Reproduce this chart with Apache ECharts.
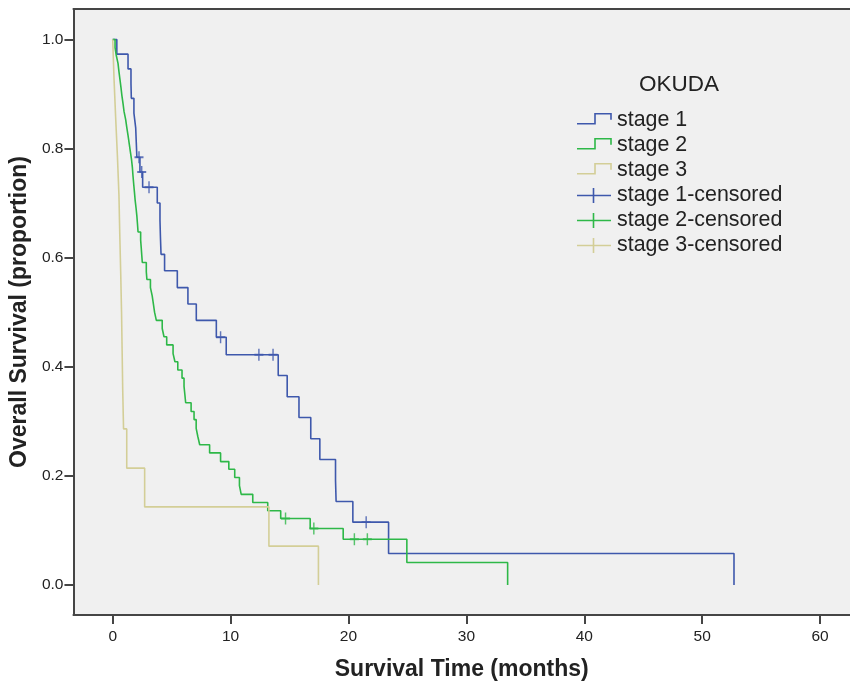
<!DOCTYPE html>
<html>
<head>
<meta charset="utf-8">
<script src="https://cdn.jsdelivr.net/npm/echarts@6/dist/echarts.min.js"></script>
<style>
html,body{margin:0;padding:0;background:#fff;}
#chart{width:850px;height:686px;}
</style>
</head>
<body>
<div id="chart"></div>
<script>
// ---------- data ----------
const legendTitle = 'OKUDA';
const seriesNames = ['stage 1', 'stage 2', 'stage 3'];
const censoredNames = ['stage 1-censored', 'stage 2-censored', 'stage 3-censored'];
const xTicks = [0, 10, 20, 30, 40, 50, 60];
const yTicks = [0, 0.2, 0.4, 0.6, 0.8, 1.0];

// [time (months), survival after event]
const stage1Steps = [[0,1],[0.35,0.973],[1.3,0.946],[1.55,0.919],[1.58,0.892],[1.8,0.865],[1.95,0.838],[2.0,0.811],[2.05,0.784],[2.31,0.757],[2.54,0.729],[3.78,0.7],[4.01,0.668],[4.05,0.637],[4.1,0.606],[4.4,0.576],[5.48,0.545],[6.38,0.515],[7.09,0.485],[8.79,0.454],[9.63,0.422],[14.04,0.384],[14.8,0.345],[15.8,0.307],[16.8,0.268],[17.57,0.23],[18.9,0.192],[18.95,0.153],[20.37,0.115],[23.4,0.0576],[52.7,0]];
const stage1Censored = [[2.23,0.784],[2.46,0.757],[3.08,0.729],[9.15,0.454],[12.4,0.422],[13.6,0.422],[21.5,0.115]];

const stage2Steps = [[0,1],[0.2,0.985],[0.3,0.971],[0.45,0.956],[0.53,0.941],[0.62,0.926],[0.7,0.912],[0.78,0.897],[0.88,0.882],[0.96,0.868],[1.1,0.853],[1.2,0.838],[1.3,0.824],[1.4,0.809],[1.5,0.794],[1.6,0.779],[1.67,0.765],[1.72,0.75],[1.78,0.735],[1.84,0.721],[1.9,0.706],[1.98,0.691],[2.05,0.676],[2.1,0.662],[2.15,0.647],[2.37,0.632],[2.42,0.618],[2.47,0.603],[2.51,0.591],[2.85,0.574],[2.9,0.56],[3.2,0.545],[3.35,0.53],[3.45,0.515],[3.55,0.5],[3.7,0.485],[4.2,0.47],[4.35,0.455],[4.58,0.44],[5.12,0.424],[5.28,0.409],[5.52,0.394],[5.88,0.379],[6.05,0.364],[6.12,0.349],[6.19,0.334],[6.65,0.318],[6.9,0.303],[7.08,0.287],[7.22,0.272],[7.38,0.257],[8.22,0.242],[9.15,0.226],[9.85,0.212],[10.35,0.197],[10.75,0.182],[10.9,0.166],[11.88,0.151],[13.15,0.136],[14.25,0.1216],[16.75,0.1033],[19.55,0.0837],[24.95,0.0411],[33.5,0]];
const stage2Censored = [[14.66,0.1216],[17.06,0.1033],[20.5,0.0837],[21.6,0.0837]];

const stage3Steps = [[0,1],[0.11,0.929],[0.25,0.857],[0.4,0.786],[0.53,0.714],[0.6,0.643],[0.68,0.571],[0.75,0.5],[0.8,0.429],[0.85,0.357],[0.92,0.286],[1.19,0.214],[2.71,0.143],[13.25,0.071],[17.45,0]];
const stage3Censored = [];

// ---------- style ----------
const colors = ['#3e58ac', '#2eb848', '#d3ce97'];
const frameColor = '#454545';
const FONT = 'Arial, "Liberation Sans", sans-serif';
const crossSymbol = 'path://M4.2,0h1.6v10h-1.6zM0,4.2h10v1.6h-10z';

const stepData = [stage1Steps, stage2Steps, stage3Steps];
const censData = [stage1Censored, stage2Censored, stage3Censored];

const series = [];
stepData.forEach((d, i) => {
  series.push({
    name: seriesNames[i], type: 'line', step: 'end', data: d,
    symbol: 'none', silent: true, z: 2 + i,
    lineStyle: { color: colors[i], width: 1.6 }
  });
});
censData.forEach((d, i) => {
  series.push({
    name: censoredNames[i], type: 'scatter', data: d,
    symbol: crossSymbol, symbolSize: [9, 12], silent: true, z: 6,
    itemStyle: { color: colors[i] }
  });
});

// legend drawn as graphic
const legendX = 577, rowY0 = 120.5, rowGap = 25;
const graphics = [{
  type: 'text', x: 679, y: 85,
  style: { text: legendTitle, fontSize: 22.5, fontFamily: FONT, fill: '#222', align: 'center', verticalAlign: 'middle' }
}];
seriesNames.forEach((n, i) => {
  const cy = rowY0 + i * rowGap;
  graphics.push({
    type: 'polyline',
    shape: { points: [[legendX, cy + 3.3], [legendX + 18, cy + 3.3], [legendX + 18, cy - 6.7], [legendX + 34, cy - 6.7], [legendX + 34, cy - 0.7]] },
    style: { stroke: colors[i], lineWidth: 1.6, fill: null }
  });
  graphics.push({
    type: 'text', x: 617, y: cy,
    style: { text: n, fontSize: 21.4, fontFamily: FONT, fill: '#222', verticalAlign: 'middle' }
  });
});
censoredNames.forEach((n, i) => {
  const cy = rowY0 + (i + 3) * rowGap;
  graphics.push({
    type: 'line', shape: { x1: legendX, y1: cy, x2: legendX + 34, y2: cy },
    style: { stroke: colors[i], lineWidth: 1.6 }
  });
  graphics.push({
    type: 'line', shape: { x1: legendX + 16.5, y1: cy - 7.5, x2: legendX + 16.5, y2: cy + 7.5 },
    style: { stroke: colors[i], lineWidth: 1.6 }
  });
  graphics.push({
    type: 'text', x: 617, y: cy,
    style: { text: n, fontSize: 21.4, fontFamily: FONT, fill: '#222', verticalAlign: 'middle' }
  });
});

const chart = echarts.init(document.getElementById('chart'), null, { renderer: 'canvas' });
chart.setOption({
  animation: false,
  backgroundColor: '#ffffff',
  textStyle: { fontFamily: FONT },
  grid: { left: 73, top: 9, right: 0, bottom: 69, show: true, backgroundColor: '#f0f0f0', borderWidth: 0 },
  xAxis: [{
    type: 'value', min: -3.33, max: 62.54,
    axisLine: { show: true, onZero: false, lineStyle: { color: frameColor, width: 2 } },
    axisTick: { show: true, customValues: xTicks, length: 9, lineStyle: { color: frameColor, width: 2 } },
    axisLabel: { customValues: xTicks, fontSize: 15.5, color: '#222', margin: 14, fontFamily: FONT },
    splitLine: { show: false },
    name: 'Survival Time (months)', nameLocation: 'middle', nameGap: 43,
    nameTextStyle: { fontSize: 23, fontWeight: 'bold', color: '#222', fontFamily: FONT }
  }, {
    type: 'value', position: 'top', min: -3.33, max: 62.54,
    axisLine: { show: true, onZero: false, lineStyle: { color: frameColor, width: 2 } },
    axisTick: { show: false }, axisLabel: { show: false }, splitLine: { show: false }
  }],
  yAxis: {
    type: 'value', min: -0.0552, max: 1.0558,
    axisLine: { show: true, onZero: false, lineStyle: { color: frameColor, width: 2 } },
    axisTick: { show: true, customValues: yTicks, length: 9, lineStyle: { color: frameColor, width: 2 } },
    axisLabel: { customValues: yTicks, fontSize: 15.5, color: '#222', margin: 10, fontFamily: FONT,
      formatter: v => v.toFixed(1) },
    splitLine: { show: false },
    name: 'Overall Survival (proportion)', nameLocation: 'middle', nameGap: 39, nameRotate: 90,
    nameTextStyle: { fontSize: 23, fontWeight: 'bold', color: '#222', fontFamily: FONT }
  },
  series: series,
  graphic: graphics
});
</script>
</body>
</html>
